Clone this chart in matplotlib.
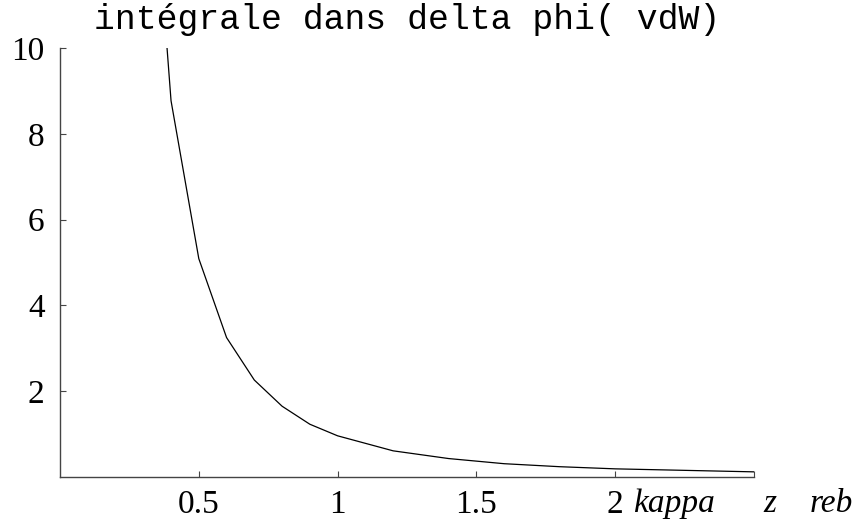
import matplotlib
matplotlib.use("Agg")
import matplotlib.pyplot as plt

# values
z = [0.3, 0.4, 0.5, 0.6, 0.7, 0.8, 0.9, 1.0, 1.2, 1.4, 1.6, 1.8, 2.0, 2.5]
integral = [17.3, 8.77, 5.09, 3.25, 2.26, 1.65, 1.23, 0.96, 0.61, 0.43, 0.31, 0.24, 0.19, 0.12]

x_ticks = [0.5, 1.0, 1.5, 2.0, 2.5]
x_tick_labels = ["0.5", "1", "1.5", "2", ""]
y_ticks = [2, 4, 6, 8, 10]
y_tick_labels = ["2", "4", "6", "8", "10"]

title = "intégrale dans delta phi( vdW)"

W, H = 861, 525
fig = plt.figure(figsize=(W / 100, H / 100), dpi=100)
ax = fig.add_axes([60 / W, 1 - 477 / H, 694 / W, 429 / H])

ax.plot(z, integral, color="black", lw=0.9)
ax.set_xlim(0, 2.5)
ax.set_ylim(0, 10)

for s in ["top", "right"]:
    ax.spines[s].set_visible(False)
for s in ["left", "bottom"]:
    ax.spines[s].set_color("#444444")
    ax.spines[s].set_linewidth(1.0)

serif = ["Liberation Serif", "DejaVu Serif"]
ax.set_xticks(x_ticks)
ax.set_xticklabels(x_tick_labels, family=serif, fontsize=24)
ax.set_yticks(y_ticks)
ax.set_yticklabels(y_tick_labels, family=serif, fontsize=24)
ax.tick_params(axis="x", direction="in", length=4, width=0.8, color="#444444", pad=9)
ax.tick_params(axis="y", direction="in", length=4, width=0.8, color="#444444", pad=11)

fig.text(407 / W, 1 - 29 / H, title, family=["Liberation Mono", "DejaVu Sans Mono"],
         fontsize=25, ha="center", va="baseline")

# axis label pieces (Mathematica style)
fig.text(633 / W, 1 - 512 / H, "kappa", family=serif, style="italic", fontsize=24, va="baseline")
fig.text(763 / W, 1 - 512 / H, "z", family=serif, style="italic", fontsize=24, va="baseline")
fig.text(810 / W, 1 - 512 / H, "reb", family=serif, style="italic", fontsize=24, va="baseline")

fig.savefig("out.png", dpi=100)
